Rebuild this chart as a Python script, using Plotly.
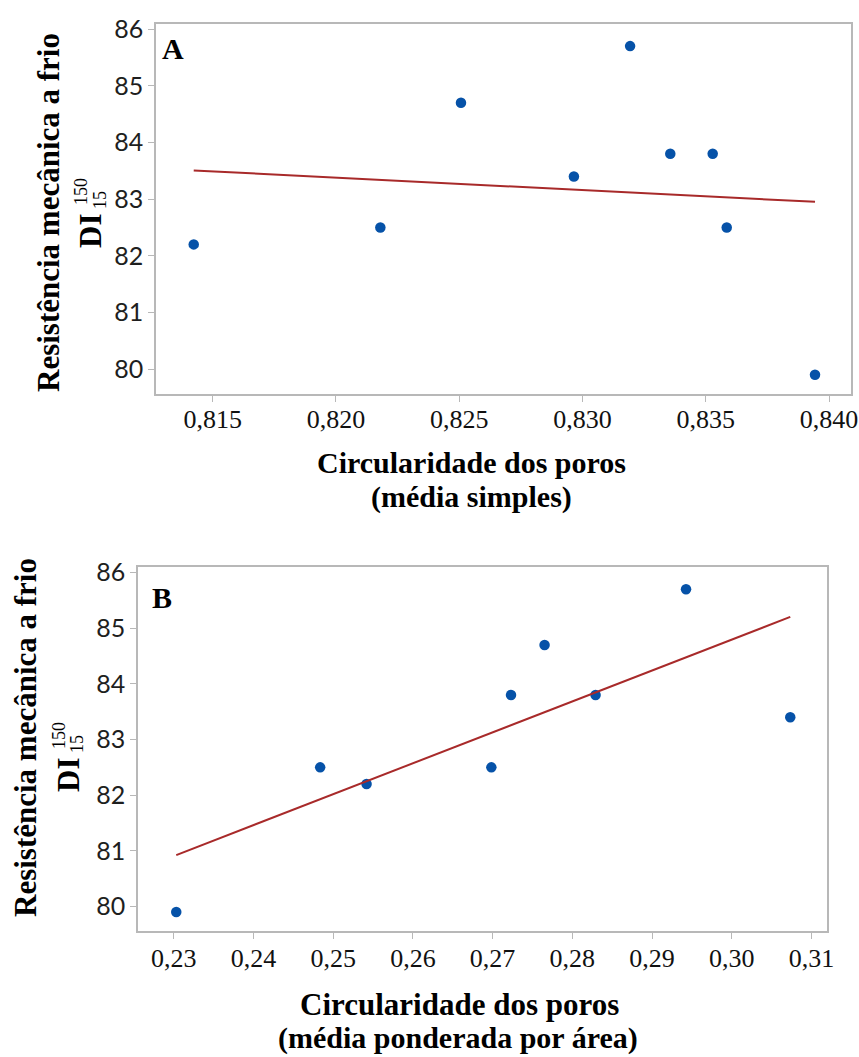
import numpy as np
import plotly.graph_objects as go

# ---------------- data ----------------
circ_simples = [0.81423, 0.8218, 0.82507, 0.82965, 0.83193, 0.83356, 0.83528, 0.83585, 0.83943]
di_a = [82.2, 82.5, 84.7, 83.4, 85.7, 83.8, 83.8, 82.5, 79.9]

circ_ponderada = [0.2303, 0.24836, 0.25418, 0.26984, 0.27231, 0.27652, 0.28292, 0.29427, 0.30735]
di_b = [79.9, 82.5, 82.2, 82.5, 83.8, 84.7, 83.8, 85.7, 83.4]

y_ticks = [80, 81, 82, 83, 84, 85, 86]
x_ticks_a = [0.815, 0.820, 0.825, 0.830, 0.835, 0.840]
x_ticks_b = [0.23, 0.24, 0.25, 0.26, 0.27, 0.28, 0.29, 0.30, 0.31]

W, H = 859, 1057
BLUE = "#0652a8"
RED = "#a82a2a"
FRAME = "#b8b8b8"


def px_x(v):
    return v / W


def px_y(v):
    return 1 - v / H


def fit_line(x, y):
    xa, ya = np.asarray(x), np.asarray(y)
    m, b = np.polyfit(xa, ya, 1)
    xs = np.array([xa.min(), xa.max()])
    return xs, m * xs + b


fig = go.Figure()

# Panel A
fig.add_trace(go.Scatter(x=circ_simples, y=di_a, mode="markers",
                         marker=dict(color=BLUE, size=10.5), xaxis="x", yaxis="y",
                         showlegend=False))
lx, ly = fit_line(circ_simples, di_a)
fig.add_trace(go.Scatter(x=lx, y=ly, mode="lines", line=dict(color=RED, width=2),
                         xaxis="x", yaxis="y", showlegend=False))

# Panel B
fig.add_trace(go.Scatter(x=circ_ponderada, y=di_b, mode="markers",
                         marker=dict(color=BLUE, size=10.5), xaxis="x2", yaxis="y2",
                         showlegend=False))
lx, ly = fit_line(circ_ponderada, di_b)
fig.add_trace(go.Scatter(x=lx, y=ly, mode="lines", line=dict(color=RED, width=2),
                         xaxis="x2", yaxis="y2", showlegend=False))

yfont = dict(family="Lato, 'Open Sans', sans-serif", size=25, color="#1e1e1e")
xfont = dict(family="'Liberation Serif', 'Times New Roman', serif", size=26, color="#111111")
common = dict(showline=True, linecolor=FRAME, linewidth=1.5, mirror=True,
              showgrid=False, zeroline=False, ticks="outside", ticklen=6,
              tickcolor=FRAME, tickwidth=1.2)

fig.update_layout(
    width=W, height=H, autosize=False,
    margin=dict(l=0, r=0, t=0, b=0, autoexpand=False),
    paper_bgcolor="white", plot_bgcolor="white",
    separators=", ",
    xaxis=dict(domain=[px_x(156), px_x(851)], anchor="y", range=[0.8127, 0.84089],
               tickvals=x_ticks_a, tickformat=".3f", tickfont=xfont,
               ticklabelstandoff=-5, **common),
    yaxis=dict(domain=[px_y(394), px_y(24)], anchor="x", range=[79.56, 86.09],
               tickvals=y_ticks, tickfont=yfont, **common),
    xaxis2=dict(domain=[px_x(138), px_x(827)], anchor="y2", range=[0.2255, 0.31196],
                tickvals=x_ticks_b, tickformat=".2f", tickfont=xfont,
                ticklabelstandoff=-3, **common),
    yaxis2=dict(domain=[px_y(931), px_y(567)], anchor="x2", range=[79.56, 86.10],
                tickvals=y_ticks, tickfont=yfont, **common),
)

serif = "'Liberation Serif', 'Times New Roman', serif"


def ann(text, x, y, size, bold=True, angle=0):
    t = f"<b>{text}</b>" if bold else text
    fig.add_annotation(text=t, x=px_x(x), y=px_y(y), xref="paper", yref="paper",
                       showarrow=False, textangle=angle, xanchor="center", yanchor="middle",
                       font=dict(family=serif, size=size, color="black"))


# panel letters
ann("A", 173, 48, 30)
ann("B", 162, 597, 30)

# x titles
ann("Circularidade dos poros", 471, 462, 30)
ann("(média simples)", 471, 497, 30)
ann("Circularidade dos poros", 459, 1004, 31)
ann("(média ponderada por área)", 458, 1038, 30)

# y titles panel A
ann("Resistência mecânica a frio", 48, 213, 31, angle=-90)
ann("DI", 90, 231, 31, angle=-90)
ann("150", 81, 192, 18, bold=False, angle=-90)
ann("15", 100, 200, 18, bold=False, angle=-90)

# y titles panel B
ann("Resistência mecânica a frio", 25, 738, 31, angle=-90)
ann("DI", 68, 775, 31, angle=-90)
ann("150", 59, 736, 18, bold=False, angle=-90)
ann("15", 77, 744, 18, bold=False, angle=-90)

fig.write_html(
    "out.html",
    config={"displayModeBar": False},
    post_script="document.body.style.margin='0';document.body.style.padding='0';"
                "document.documentElement.style.overflow='hidden';",
)
